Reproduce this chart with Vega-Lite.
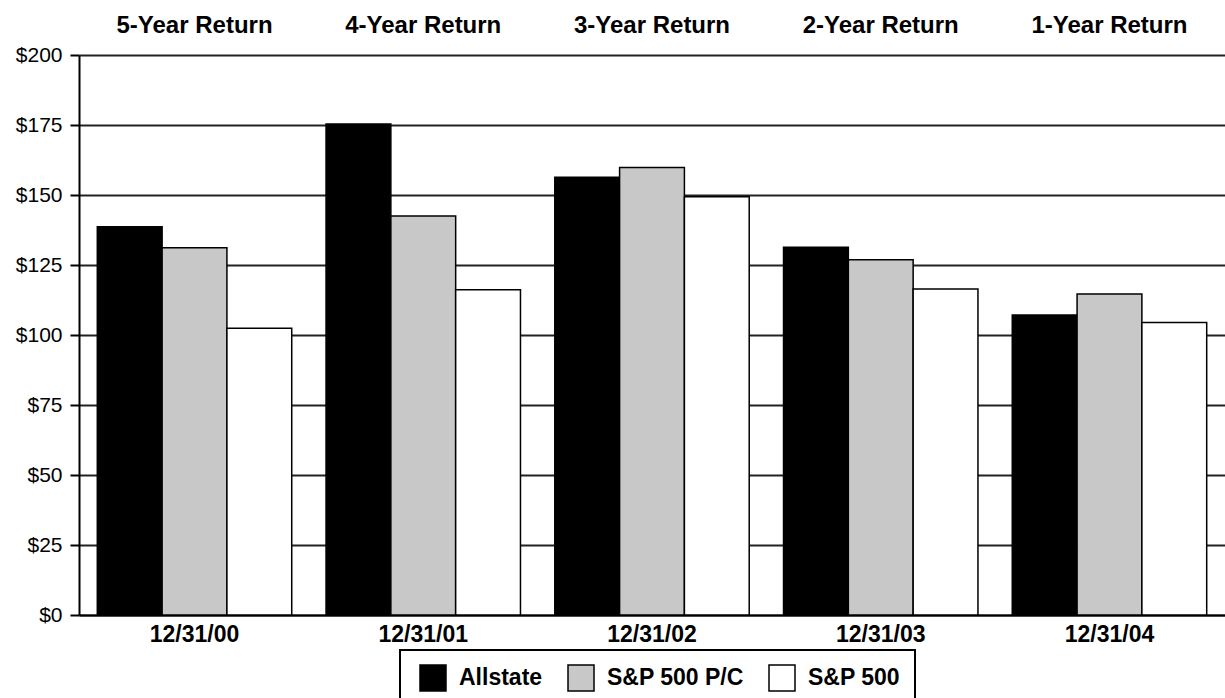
{
  "$schema": "https://vega.github.io/schema/vega-lite/v6.json",
  "autosize": {"type": "none"},
  "padding": {"left": 79, "top": 55, "right": 0, "bottom": 83},
  "width": 1146,
  "height": 560,
  "config": {
    "font": "Liberation Sans",
    "view": {"stroke": null},
    "axis": {"domainColor": "#000", "domainWidth": 2, "tickColor": "#000", "tickWidth": 2, "labelColor": "#000"}
  },
  "data": {
    "values": [
      {"date": "12/31/00", "period": "5-Year Return", "series": "Allstate", "value": 138.7},
      {"date": "12/31/00", "period": "5-Year Return", "series": "S&P 500 P/C", "value": 131.2},
      {"date": "12/31/00", "period": "5-Year Return", "series": "S&P 500", "value": 102.4},
      {"date": "12/31/01", "period": "4-Year Return", "series": "Allstate", "value": 175.4},
      {"date": "12/31/01", "period": "4-Year Return", "series": "S&P 500 P/C", "value": 142.5},
      {"date": "12/31/01", "period": "4-Year Return", "series": "S&P 500", "value": 116.2},
      {"date": "12/31/02", "period": "3-Year Return", "series": "Allstate", "value": 156.3},
      {"date": "12/31/02", "period": "3-Year Return", "series": "S&P 500 P/C", "value": 159.8},
      {"date": "12/31/02", "period": "3-Year Return", "series": "S&P 500", "value": 149.4},
      {"date": "12/31/03", "period": "2-Year Return", "series": "Allstate", "value": 131.3},
      {"date": "12/31/03", "period": "2-Year Return", "series": "S&P 500 P/C", "value": 126.9},
      {"date": "12/31/03", "period": "2-Year Return", "series": "S&P 500", "value": 116.4},
      {"date": "12/31/04", "period": "1-Year Return", "series": "Allstate", "value": 107.1},
      {"date": "12/31/04", "period": "1-Year Return", "series": "S&P 500 P/C", "value": 114.6},
      {"date": "12/31/04", "period": "1-Year Return", "series": "S&P 500", "value": 104.5}
    ]
  },
  "encoding": {
    "y": {
      "field": "value", "type": "quantitative",
      "scale": {"domain": [0, 200], "nice": false},
      "axis": {
        "title": null, "values": [0, 25, 50, 75, 100, 125, 150, 175, 200],
        "labelExpr": "'$' + datum.value",
        "labelFontSize": 21, "labelPadding": 8, "tickSize": 9,
        "grid": true, "gridColor": "#222", "gridWidth": 2
      }
    }
  },
  "layer": [
    {
      "mark": {"type": "bar", "stroke": "#000", "strokeWidth": 1.5},
      "encoding": {
        "x": {
          "field": "date", "type": "nominal",
          "scale": {"paddingInner": 0.15, "paddingOuter": 0.08},
          "axis": {"title": null, "labelAngle": 0, "ticks": false, "labelFontSize": 23, "labelFontWeight": "bold", "labelPadding": 8, "grid": false}
        },
        "xOffset": {
          "field": "series", "type": "nominal",
          "sort": ["Allstate", "S&P 500 P/C", "S&P 500"],
          "scale": {"paddingInner": 0, "paddingOuter": 0}
        },
        "color": {
          "field": "series", "type": "nominal",
          "scale": {"domain": ["Allstate", "S&P 500 P/C", "S&P 500"], "range": ["#000000", "#c8c8c8", "#ffffff"]},
          "legend": {
            "title": null, "orient": "none", "legendX": 321, "legendY": 595,
            "direction": "horizontal", "strokeColor": "#000", "padding": 14, "symbolOffset": 5,
            "symbolType": "square", "symbolSize": 676, "symbolStrokeColor": "#000", "symbolStrokeWidth": 1.5,
            "labelFontSize": 23, "labelFontWeight": "bold", "labelOffset": 12, "columnPadding": 19, "labelColor": "#000",
            "encode": {"legend": {"update": {"strokeWidth": {"value": 2}}}}
          }
        }
      }
    },
    {
      "mark": {"type": "bar", "opacity": 0},
      "encoding": {
        "x": {
          "field": "period", "type": "nominal",
          "sort": ["5-Year Return", "4-Year Return", "3-Year Return", "2-Year Return", "1-Year Return"],
          "scale": {"paddingInner": 0.15, "paddingOuter": 0.08},
          "axis": {"orient": "top", "title": null, "labelAngle": 0, "ticks": false, "tickSize": 0, "domain": false, "labelFontSize": 24, "labelFontWeight": "bold", "labelPadding": 18, "grid": false}
        }
      }
    }
  ],
  "resolve": {"scale": {"x": "independent"}}
}
